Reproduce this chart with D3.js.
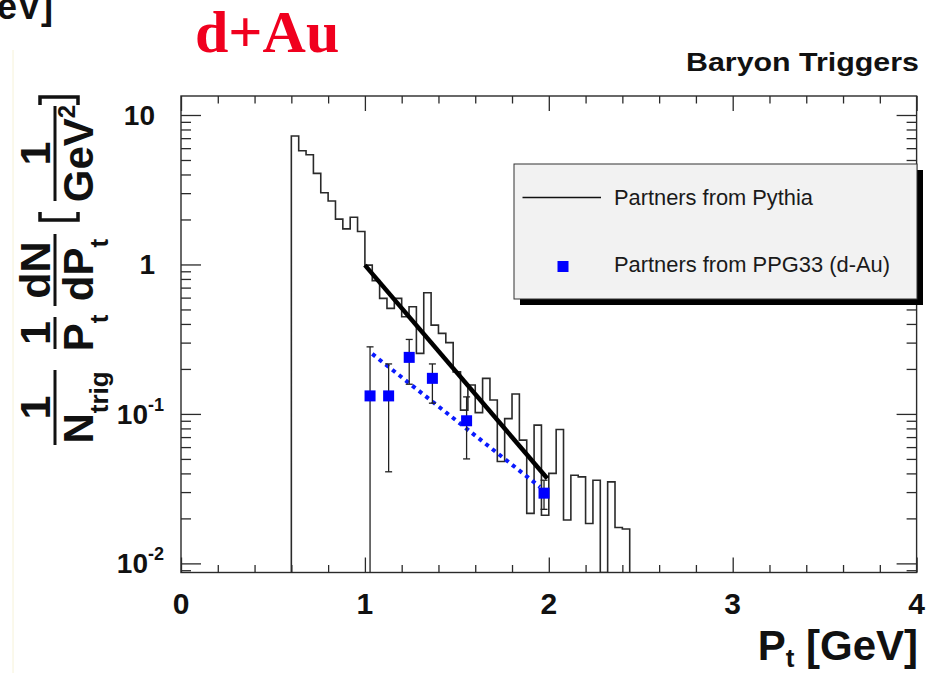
<!DOCTYPE html>
<html><head><meta charset="utf-8">
<script src="https://cdn.jsdelivr.net/npm/d3@7"></script>
<style>
html,body{margin:0;padding:0;background:#fff;}
svg{display:block;}
text{font-family:"Liberation Sans",Arial,Helvetica,sans-serif;}
</style></head><body>
<svg id="chart" width="945" height="673"></svg>
<script>
// ---- Pythia partner histogram: 0.04 GeV bins starting at 0.60 GeV
const binStart = 0.60;
const binWidth = 0.04;
const pythiaCounts = [7.23,5.77,5.42,4.07,3.02,2.66,2.01,1.73,2.07,1.66,
  0.99,0.78,0.593,0.508,0.593,0.447,0.521,0.254,0.647,0.393,
  0.346,0.30,0.191,0.106,0.156,0.102,0.173,0.124,0.048,0.093,
  0.136,0.0668,0.0216,0.0841,0.021,0.040,0.0787,0.0195,0.0389,0.0379,
  0.0185,0.036,0,0.0351,0.0174,0.017];

// ---- PPG33 (d-Au) partner yields with error-bar ends
const ppgPt    = [1.028,1.129,1.241,1.367,1.553,1.974];
const ppgYield = [0.132,0.132,0.239,0.173,0.090,0.0295];
const ppgLow   = [0.004,0.041,0.158,0.118,0.050,0.023];
const ppgHigh  = [0.281,0.216,0.315,0.216,0.130,0.036];

// ---- exponential fits (straight lines on the log axis)
const pythiaFitPt = [1.00,1.992];
const pythiaFitY  = [0.99,0.037];
const ppgFitPt    = [1.04,1.952];
const ppgFitY     = [0.252,0.0325];

// ---- axis labelling
const xTickValues = [0,1,2,3,4];
const xTickLabels = ["0","1","2","3","4"];
const yTickValues = [0.01,0.1,1,10];
const yTickBase   = ["10","10","1","10"];
const yTickExp    = ["-2","-1","",""];

const legendLabels = ["Partners from Pythia","Partners from PPG33 (d-Au)"];

const W = 945, H = 673;
const L = 181, R = 916.6, T = 96, B = 572.5;
const svg = d3.select("#chart");

const x = d3.scaleLinear().domain([0,4]).range([L,R]);
const y = d3.scaleLog().domain([0.00869,13.4]).range([B,T]);
const yc = y.copy().clamp(true);

const ink = "#2a2a2a";

// faint page edge
svg.append("line").attr("x1",13).attr("x2",13).attr("y1",50).attr("y2",H)
  .attr("stroke","#f6f2d8").attr("stroke-width",1);

// clipped fragment of a neighbouring axis title
svg.append("text").attr("x",53).attr("y",18.5).attr("text-anchor","end")
  .attr("font-size",36).attr("font-weight","bold").attr("fill","#111").text("[GeV]");

// system label
svg.append("text").attr("x",195).attr("y",52).attr("font-size",60)
  .attr("font-weight","bold").attr("fill","#f0001e")
  .style("font-family","'Liberation Serif','Times New Roman',serif").text("d+Au");

svg.append("text").attr("x",686).attr("y",71).attr("font-size",25)
  .attr("font-weight","bold").attr("fill","#111")
  .attr("textLength",233).attr("lengthAdjust","spacingAndGlyphs").text("Baryon Triggers");

// ---- frame
svg.append("rect").attr("x",L).attr("y",T).attr("width",R-L).attr("height",B-T)
  .attr("fill","none").attr("stroke",ink).attr("stroke-width",1.4);

// ---- ticks on all four sides
const xMinor = d3.range(0,4.0001,0.2).map(v=>+v.toFixed(2)).filter(v=>Math.abs(v-Math.round(v))>1e-6);
function tickAxis(axisFn, scale, values, len, tx, ty){
  const g = svg.append("g").attr("transform",`translate(${tx},${ty})`)
    .call(axisFn(scale).tickValues(values).tickSize(len).tickFormat(""));
  g.select(".domain").remove();
  g.selectAll("line").attr("stroke",ink).attr("stroke-width",1.3);
}
tickAxis(d3.axisTop, x, xTickValues, 15, 0, B);
tickAxis(d3.axisTop, x, xMinor, 7.5, 0, B);
tickAxis(d3.axisBottom, x, xTickValues, 15, 0, T);
tickAxis(d3.axisBottom, x, xMinor, 7.5, 0, T);

const yMinor = [];
for (let e=-3;e<=1;e++) for (let k=2;k<=9;k++){
  const v = k*Math.pow(10,e);
  if (v>=y.domain()[0] && v<=y.domain()[1]) yMinor.push(v);
}
tickAxis(d3.axisRight, y, yTickValues, 20, L, 0);
tickAxis(d3.axisRight, y, yMinor, 10, L, 0);
tickAxis(d3.axisLeft, y, yTickValues, 20, R, 0);
tickAxis(d3.axisLeft, y, yMinor, 10, R, 0);

// ---- tick labels
svg.append("g").selectAll("text").data(xTickValues).join("text")
  .attr("x",d=>x(d)).attr("y",614).attr("text-anchor","middle")
  .attr("font-size",30).attr("font-weight","bold").attr("fill","#111")
  .text((d,i)=>xTickLabels[i]);

yTickValues.forEach((v,i)=>{
  const t = svg.append("text").attr("y",y(v)+10).attr("text-anchor","end")
    .attr("font-size",28).attr("font-weight","bold").attr("fill","#111");
  if (yTickExp[i]) {
    t.attr("x",164);
    t.append("tspan").text(yTickBase[i]);
    t.append("tspan").attr("dy",-13).attr("font-size",18).text(yTickExp[i]);
  } else {
    t.attr("x",155).text(yTickBase[i]);
  }
});

// ---- x-axis title
const xt = svg.append("text").attr("x",918).attr("y",660).attr("text-anchor","end")
  .attr("font-size",42).attr("font-weight","bold").attr("fill","#111");
xt.append("tspan").text("P");
xt.append("tspan").attr("dy",7).attr("font-size",26).text("t");
xt.append("tspan").attr("dy",-7).text(" [GeV]");

// ---- y-axis title (rotated fractions)
const barX = 55;
function frac(cy, len, num, den){
  const g = svg.append("g").attr("transform",`translate(${barX},${cy}) rotate(-90)`)
    .attr("font-weight","bold").attr("fill","#111");
  g.append("line").attr("x1",-len/2).attr("x2",len/2).attr("y1",0).attr("y2",0)
    .attr("stroke","#111").attr("stroke-width",3);
  const n = g.append("text").attr("x",0).attr("y",-5).attr("text-anchor","middle").attr("font-size",43);
  num.forEach(p=>n.append("tspan").attr("dy",p.dy||0).attr("font-size",p.fs||43).text(p.t));
  const d = g.append("text").attr("x",0).attr("y",38).attr("text-anchor","middle").attr("font-size",42);
  den.forEach(p=>d.append("tspan").attr("dy",p.dy||0).attr("font-size",p.fs||42).text(p.t));
}
frac(407.5, 75, [{t:"1"}], [{t:"N"},{t:"trig",dy:15,fs:26}]);
frac(333, 32, [{t:"1"}], [{t:"P"},{t:"t",dy:15,fs:26}]);
frac(270, 72, [{t:"dN"}], [{t:"dP"},{t:"t",dy:15,fs:26}]);
frac(153.5, 95, [{t:"1"}], [{t:"GeV"},{t:"2",dy:-18,fs:24}]);
svg.append("path").attr("d","M40,212 L40,220 L78,220 L78,212")
  .attr("fill","none").attr("stroke","#111").attr("stroke-width",3.5);
svg.append("path").attr("d","M40,105 L40,97 L78,97 L78,105")
  .attr("fill","none").attr("stroke","#111").attr("stroke-width",3.5);

// ---- plot contents
svg.append("clipPath").attr("id","plotclip").append("rect")
  .attr("x",L).attr("y",T).attr("width",R-L).attr("height",B-T);
const plot = svg.append("g").attr("clip-path","url(#plotclip)");

// Pythia histogram outline
const histPts = [[x(binStart), B]];
pythiaCounts.forEach((v,i)=>{
  const lo = binStart + i*binWidth, hi = lo + binWidth;
  const yy = v>0 ? y(v) : B;
  histPts.push([x(lo),yy],[x(hi),yy]);
});
histPts.push([x(binStart + pythiaCounts.length*binWidth), B]);
plot.append("path").attr("d",d3.line()(histPts))
  .attr("fill","none").attr("stroke",ink).attr("stroke-width",1.6);

// fits
const fitLine = d3.line().x(d=>x(d[0])).y(d=>y(d[1]));
plot.append("path").attr("d",fitLine(pythiaFitPt.map((p,i)=>[p,pythiaFitY[i]])))
  .attr("fill","none").attr("stroke","#000").attr("stroke-width",4.5);
plot.append("path").attr("d",fitLine(ppgFitPt.map((p,i)=>[p,ppgFitY[i]])))
  .attr("fill","none").attr("stroke","#0a1aff").attr("stroke-width",4)
  .attr("stroke-dasharray","4,4.5");

// error bars
ppgPt.forEach((p,i)=>{
  const cx = x(p), y1 = yc(ppgLow[i]), y2 = yc(ppgHigh[i]);
  plot.append("line").attr("x1",cx).attr("x2",cx).attr("y1",y1).attr("y2",y2)
    .attr("stroke","#222").attr("stroke-width",1.3);
  [ppgLow[i],ppgHigh[i]].forEach(v=>{
    if (v>y.domain()[0]) plot.append("line").attr("x1",cx-3.5).attr("x2",cx+3.5)
      .attr("y1",y(v)).attr("y2",y(v)).attr("stroke","#222").attr("stroke-width",1.3);
  });
});
// markers
plot.selectAll("rect.pt").data(ppgPt).join("rect").attr("class","pt")
  .attr("x",d=>x(d)-5.5).attr("y",(d,i)=>y(ppgYield[i])-5.5)
  .attr("width",11).attr("height",11).attr("fill","#0000ff");

// ---- legend
const lg = {x:514, y:164, w:403, h:135};
svg.append("rect").attr("x",lg.x+6).attr("y",lg.y+6).attr("width",lg.w).attr("height",lg.h).attr("fill","#000");
svg.append("rect").attr("x",lg.x).attr("y",lg.y).attr("width",lg.w).attr("height",lg.h)
  .attr("fill","#f2f2f2").attr("stroke","#333").attr("stroke-width",1);
svg.append("line").attr("x1",522.5).attr("x2",601).attr("y1",197.5).attr("y2",197.5)
  .attr("stroke","#111").attr("stroke-width",1.5);
svg.append("rect").attr("x",557.5).attr("y",261).attr("width",11).attr("height",11).attr("fill","#0000ff");
const legendW = [199,276];
legendLabels.forEach((s,i)=>{
  svg.append("text").attr("x",614).attr("y",[205,272][i]).attr("font-size",21.5).attr("fill","#1a1a1a")
    .attr("textLength",legendW[i]).attr("lengthAdjust","spacingAndGlyphs").text(s);
});
</script>
</body></html>
